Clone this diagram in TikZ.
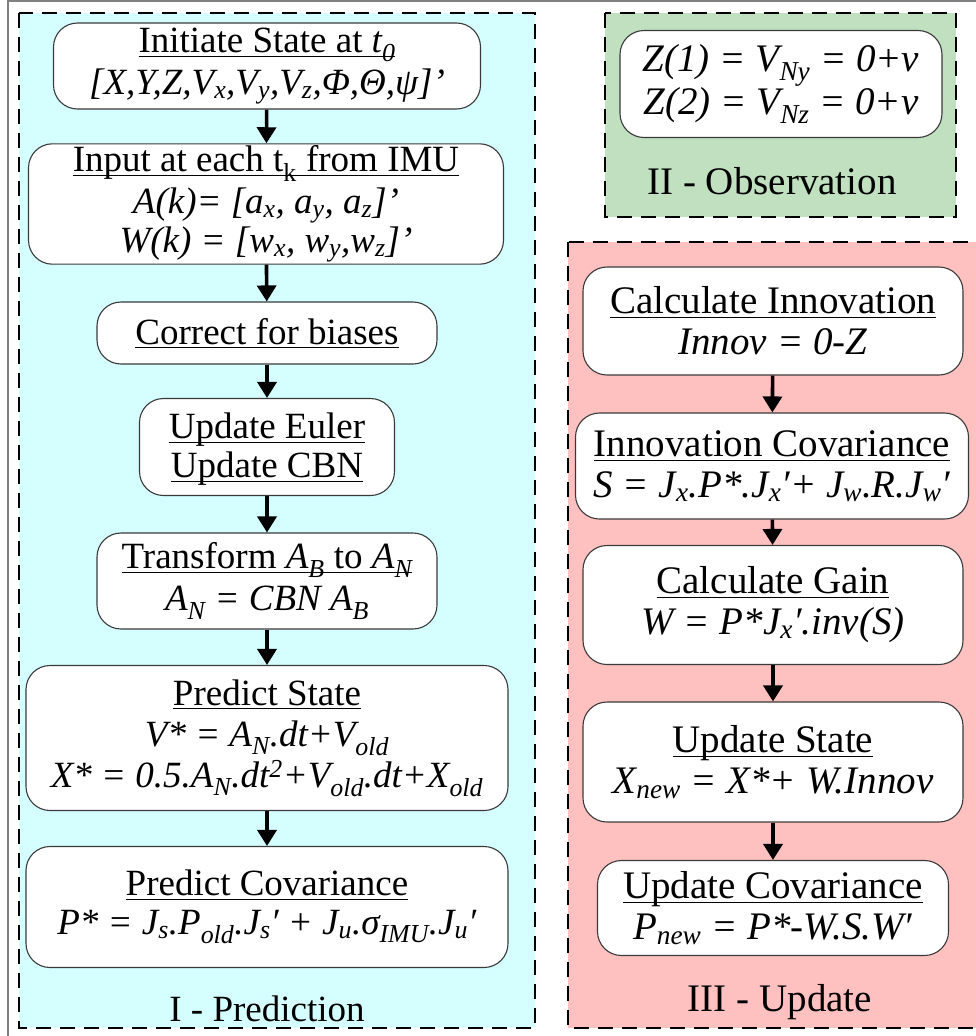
\documentclass[tikz,border=0pt]{standalone}
\usepackage{fontspec}
\setmainfont{Liberation Serif}
\usetikzlibrary{arrows.meta}
\definecolor{Ink}{HTML}{3A3A3A}
\definecolor{PredFill}{HTML}{D4FEFF}
\definecolor{ObsFill}{HTML}{C0E0C0}
\definecolor{UpdFill}{HTML}{FFC0C0}
\newcommand{\StepBox}[6]{%
  \node[stepbox,minimum width=#4,minimum height=#5] (#1) at (#2,#3) {#6};%
}
\newcommand{\Lo}[1]{\textsubscript{#1}}
\newcommand{\Ul}[1]{\underline{\raisebox{0pt}[\height][2pt]{#1}}}
\begin{document}
\begin{tikzpicture}[x=1pt,y=-1pt,
  stepbox/.style={draw=Ink,line width=1.1pt,fill=white,rounded corners=24pt,align=center,inner sep=2pt},
  panel/.style={draw=black,line width=1.8pt,dash pattern=on 15pt off 9pt},
  flow/.style={line width=3.6pt,-{Triangle[length=16pt,width=19pt]}},
  font=\fontsize{37}{39}\selectfont]
\useasboundingbox (0,0) rectangle (975,1036);
\draw[gray,line width=1.5pt] (8,1) rectangle (995,1050);
\fill[PredFill] (19,13) rectangle (535,1028);
\draw[panel] (19,13) rectangle (535,1028);
\fill[ObsFill] (605,13) rectangle (956,217);
\draw[panel] (605,13) rectangle (956,217);
\fill[UpdFill] (568,242) rectangle (990,1028);
\draw[panel] (568,242) rectangle (990,1028);
\StepBox{init}{267}{66}{427}{86}{\Ul{Initiate State at \textit{t\Lo{0}}}\\[3pt]\textit{[X,Y,Z,V\Lo{x},V\Lo{y},V\Lo{z},Φ,Θ,ψ]’}}
\StepBox{input}{266}{204}{475}{112}{\Ul{Input at each t\Lo{k} from IMU}\\[3pt]\textit{A(k)= [a\Lo{x}, a\Lo{y}, a\Lo{z}]’}\\\textit{W(k) = [w\Lo{x}, w\Lo{y},w\Lo{z}]’}}
\StepBox{bias}{267}{333}{340}{62}{\Ul{Correct for biases}}
\StepBox{euler}{267}{447}{255}{97}{\Ul{Update Euler}\\\Ul{Update CBN}}
\StepBox{trans}{267}{581}{340}{96}{\Ul{Transform \textit{A\Lo{B}} to \textit{A\Lo{N}}}\\[3pt]\textit{A\Lo{N} = CBN A\Lo{B}}}
\StepBox{pstate}{267}{738}{482}{145}{\Ul{Predict State}\\[2pt]\textit{V* = A\Lo{N}.dt+V\Lo{old}}\\[2pt]\textit{X* = 0.5.A\Lo{N}.dt\textsuperscript{2}+V\Lo{old}.dt+X\Lo{old}}}
\StepBox{pcov}{267}{907}{482}{121}{\Ul{Predict Covariance}\\\textit{P* = J\Lo{s}.P\Lo{old}.J\Lo{s}′ + J\Lo{u}.σ\Lo{IMU}.J\Lo{u}′}}
\node (predlabel) at (267,1009) {I - Prediction};
\begin{scope}[font=\fontsize{39}{41}\selectfont]
\StepBox{obs}{781}{84}{322}{107}{\textit{Z(1) = V\Lo{Ny} = 0+v}\\\textit{Z(2) = V\Lo{Nz} = 0+v}}
\StepBox{innov}{773}{321}{380}{108}{\Ul{Calculate Innovation}\\\textit{Innov = 0-Z}}
\StepBox{icov}{772}{466}{393}{106}{\Ul{Innovation Covariance}\\\textit{S = J\Lo{x}.P*.J\Lo{x}′+ J\Lo{w}.R.J\Lo{w}′}}
\StepBox{gain}{773}{605}{380}{119}{\Ul{Calculate Gain}\\\textit{W = P*J\Lo{x}′.inv(S)}}
\StepBox{ustate}{773}{762}{380}{120}{\Ul{Update State}\\\textit{X\Lo{new} = X*+ W.Innov}}
\StepBox{ucov}{773}{908}{351}{95}{\Ul{Update Covariance}\\\textit{P\Lo{new} = P*-W.S.W′}}
\node (obslabel) at (772,181) {II - Observation};
\node (updlabel) at (780,1002) {III - Update};
\end{scope}
\foreach \a/\b in {init/input,input/bias,bias/euler,euler/trans,trans/pstate,pstate/pcov,innov/icov,icov/gain,gain/ustate,ustate/ucov}
  \draw[flow] (\a) -- (\b);
\end{tikzpicture}
\end{document}
